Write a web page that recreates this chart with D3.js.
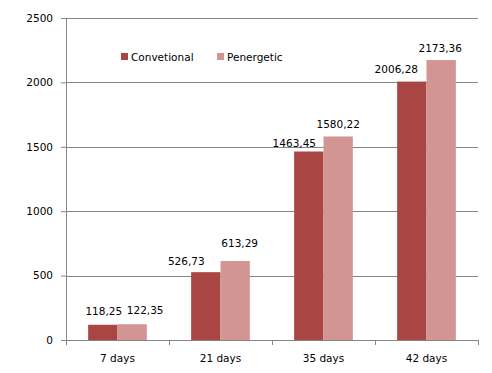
<!DOCTYPE html>
<html><head><meta charset="utf-8">
<script src="https://cdn.jsdelivr.net/npm/d3@7"></script>
<style>body{margin:0;background:#fff}svg{display:block;font-family:"DejaVu Sans",Verdana,sans-serif}</style>
</head><body>
<svg id="c" width="492" height="373"></svg>
<script>
const categories = ["7 days", "21 days", "35 days", "42 days"];
const seriesNames = ["Convetional", "Penergetic"];
const convetional = [118.25, 526.73, 1463.45, 2006.28];
const penergetic = [122.35, 613.29, 1580.22, 2173.36];
const yTicks = [0, 500, 1000, 1500, 2000, 2500];
const colors = ["#A94644", "#D39593"];
// label placement nudges (layout only): [dx, gap above bar top to label centre]
const labelNudge = [
  [[1, 14], [-19.5, 11], [-14.5, 9], [-15.5, 12.5]],
  [[13, 14], [4.5, 18], [0, 12], [-1, 12]]
];

(function () {
const svg = d3.select("#c");
const pL = 66, pR = 478, pT = 18, pB = 340;
const x = d3.scaleBand().domain(categories).range([pL, pR]).paddingInner(0.43).paddingOuter(0.215);
const y = d3.scaleLinear().domain([0, 2500]).range([pB, pT]);
const xs = d3.scaleBand().domain(seriesNames).range([0, x.bandwidth()]);
const grid = "#868686";

// gridlines
svg.append("g").selectAll("line").data(yTicks.filter(d => d > 0)).join("line")
  .attr("x1", pL).attr("x2", pR).attr("y1", d => Math.round(y(d)) + 0.5).attr("y2", d => Math.round(y(d)) + 0.5)
  .attr("stroke", grid).attr("stroke-width", 1);

// y axis
const ya = svg.append("g").attr("transform", `translate(${pL},0)`)
  .call(d3.axisLeft(y).tickValues(yTicks).tickSize(5).tickPadding(8).tickFormat(d3.format("d")));
ya.select(".domain").attr("stroke", grid).attr("d", `M0.5,${pT}V${pB}`);
ya.selectAll(".tick line").attr("stroke", grid);
ya.selectAll("text").attr("font-size", "10.5px").attr("fill", "#000").attr("font-family", "DejaVu Sans, Verdana, sans-serif");

// bars
const data = [convetional, penergetic];
const groups = svg.append("g").selectAll("g").data(seriesNames).join("g").attr("fill", (d, i) => colors[i]);
const rows = (s, i) => categories.map((c, j) => ({c, s, v: data[i][j], n: labelNudge[i][j]}));
groups.selectAll("rect").data(rows).join("rect")
  .attr("x", d => x(d.c) + xs(d.s)).attr("width", xs.bandwidth())
  .attr("y", d => y(d.v)).attr("height", d => y(0) - y(d.v));

// value labels
const fmt = v => d3.format(".2f")(v).replace(".", ",");
groups.selectAll("text").data(rows).join("text")
  .attr("x", d => x(d.c) + xs(d.s) + xs.bandwidth() / 2 + d.n[0])
  .attr("y", d => y(d.v) - d.n[1] + 4)
  .attr("text-anchor", "middle").attr("font-size", "10.5px").attr("fill", "#000").text(d => fmt(d.v));

// x axis
const xa = svg.append("g").attr("transform", `translate(0,${pB})`);
xa.append("line").attr("x1", pL).attr("x2", pR).attr("y1", 0.5).attr("y2", 0.5).attr("stroke", grid);
const bounds = categories.map(c => x(c) - x.step() * x.paddingInner() / 2).concat([pR]);
xa.selectAll("line.t").data(bounds).join("line").attr("class", "t")
  .attr("x1", d => Math.round(d) + 0.5).attr("x2", d => Math.round(d) + 0.5).attr("y1", 0).attr("y2", 5).attr("stroke", grid);
xa.selectAll("text").data(categories).join("text")
  .attr("x", d => x(d) + x.bandwidth() / 2).attr("y", 22)
  .attr("text-anchor", "middle").attr("font-size", "10.5px").text(d => d);

// legend
const leg = svg.append("g");
const legX = [121, 217];
seriesNames.forEach((s, i) => {
  leg.append("rect").attr("x", legX[i]).attr("y", 53).attr("width", 7).attr("height", 7).attr("fill", colors[i]);
  leg.append("text").attr("x", legX[i] + 10).attr("y", 60.5).attr("font-size", "10.5px").text(s);
});
})();
</script>
</body></html>
